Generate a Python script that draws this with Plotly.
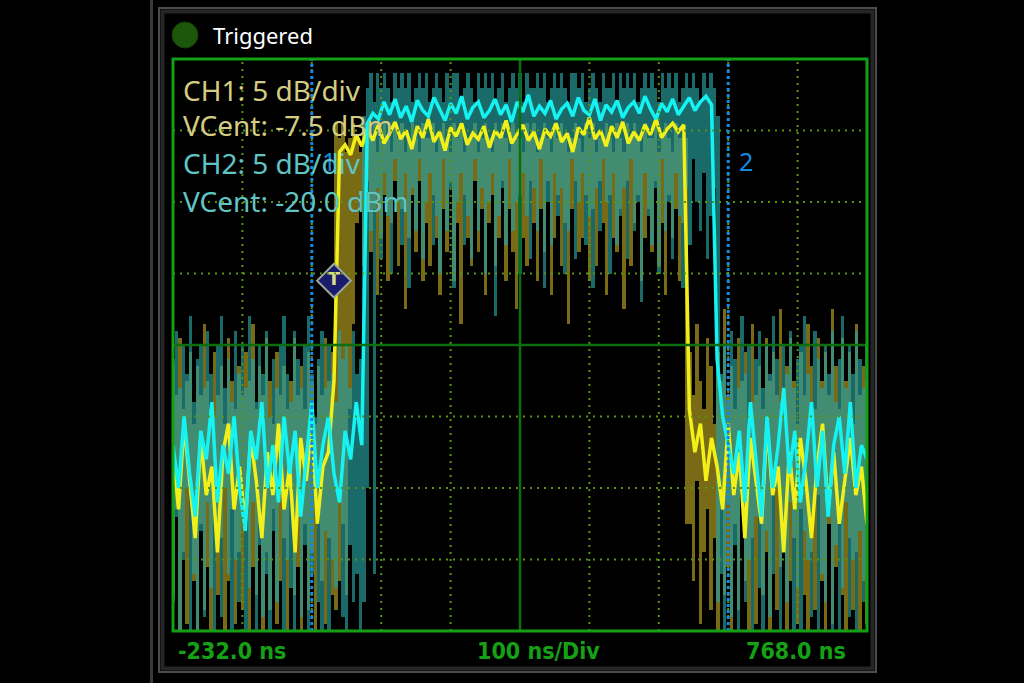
import numpy as np
import plotly.graph_objects as go

# ---------------- time base / vertical settings ----------------
T_START = -232.0     # ns, left edge
T_STOP = 768.0       # ns, right edge
NS_PER_DIV = 100
N_XDIV = 10
N_YDIV = 8
DB_PER_DIV = 5.0
CH1_VCENT = -7.5     # dBm
CH2_VCENT = -20.0    # dBm
DT_AVG = 8.0         # ns between samples of the bright (average) traces
DT_RAW = 5.0         # ns between samples of the dim (peak-detect) envelopes

# ---------------- data (dBm) read from the screen ----------------
# bright traces
ch1_avg = [-15, -19, -13, -17, -21, -14, -18, -16, -22, -15,
           -13, -19, -16, -20, -14, -17, -21, -15, -18, -13,
           -19, -16, -22, -14, -17, -13, -20, -16, -15,
           -10,
           6.0, 6.5, 5.8, 7.2, 6.4, 7.6, 6.8, 7.9, 6.6, 7.3,
           8.1, 6.9, 7.5, 6.2, 7.8, 7.0, 8.3, 6.7, 7.4, 6.1,
           7.7, 7.1, 8.0, 6.5, 7.3, 6.9, 7.8, 6.3, 7.5, 7.0,
           8.2, 6.6, 7.2, 7.9, 6.8, 7.4, 6.2, 7.6, 7.1, 8.0,
           6.7, 7.3, 6.0, 7.7, 7.2, 8.4, 6.9, 7.5, 6.4, 7.8,
           7.0, 8.1, 6.6, 7.4, 6.8, 7.9, 7.2, 8.3, 7.0, 7.6,
           8.0, 7.4, 7.9,
           -12, -15, -13, -17, -14, -16, -19, -13, -18, -15,
           -21, -14, -17, -20, -13, -18, -16, -22, -15, -19,
           -14, -17, -21, -16, -13, -19, -15, -20, -17, -14,
           -18, -16, -20]

ch2_avg = [-27, -30, -25, -29, -32, -26, -28, -24, -31, -27,
           -29, -25, -30, -33, -26, -28, -24, -30, -27, -31,
           -25, -29, -26, -32, -28, -24, -30, -27, -25, -29,
           -31, -26, -28, -24, -27,
           -4.5, -3.8, -4.2, -3.0, -3.9, -2.8, -4.1, -3.3, -4.4, -2.9,
           -3.6, -4.0, -2.7, -3.5, -4.3, -3.1, -3.8, -2.6, -4.2, -3.4,
           -3.0, -4.1, -3.6, -2.8, -3.9, -3.2, -4.4, -3.0, -3.7, -2.5,
           -4.0, -3.3, -3.8, -2.9, -4.2, -3.5, -3.1, -4.0, -2.7, -3.6,
           -3.9, -2.8, -4.3, -3.2, -3.7, -2.9, -4.1, -3.4, -3.0, -3.8,
           -2.6, -3.5, -4.2, -3.1, -3.7, -2.8, -3.9, -3.3, -2.7, -3.6,
           -3.0, -2.6, -3.2,
           -21, -25, -27, -29, -26, -31, -24, -28, -32, -25,
           -30, -27, -23, -29, -26, -31, -28, -24, -30, -26,
           -32, -27, -25, -29, -24, -30, -27, -28]

# dim peak-detect envelopes: top and bottom of each column
ch1_env_max = [-9, -11, -7, -12, -10, -8, -13, -9, -11, -6,
               -10, -12, -8, -11, -9, -13, -7, -10, -12, -9,
               -11, -8, -10, -6, -12, -9, -11, -7, -10, -13,
               -8, -11, -9, -12, -10, -7, -11, -9, -12, -8,
               -10, -13, -9, -11, -7, -10, -8,
               8,
               7, 8, 6, 7, 8, 7, 6, 8, 7, 7,
               8, 6, 7, 8, 7, 6, 8, 7, 8, 6,
               7, 8, 7, 6, 8, 7, 7, 8, 6, 7,
               8, 7, 6, 8, 7, 8, 6, 7, 7, 8,
               6, 7, 8, 7, 6, 8, 7, 8, 7, 6,
               8, 7, 7, 6, 8, 7, 8, 6, 7, 8,
               7, 6, 8, 7, 8, 7, 6, 7, 8, 7,
               6, 8, 7, 8, 6, 7, 7, 8, 7, 6,
               8, 7, 6, 8, 7, 8, 7, 6, 8, 7,
               7, 8, 6, 7, 8, 7, 6, 8, 7, 7,
               7,
               -8, -11, -6, -10, -12, -7, -9, -13, -8, -10,
               -5, -11, -9, -12, -7, -10, -8, -13, -6, -11,
               -9, -12, -7, -10, -8, -11, -5, -12, -9, -7,
               -10, -13, -8, -11, -6, -9, -12, -7, -10, -8,
               -11, -5, -9, -12, -7, -10, -8, -13, -6, -11,
               -9, -10]

ch1_env_min = [-25, -19, -28, -22, -27, -17, -24, -29, -20, -26,
               -23, -28, -18, -25, -21, -29, -24, -19, -27, -22,
               -26, -18, -28, -23, -25, -20, -29, -22, -26, -19,
               -27, -24, -21, -28, -17, -25, -23, -29, -20, -26,
               -22, -28, -19, -24, -27, -21, -25,
               -26,
               -24, -20, -25, -12, -6, 1,
               3, -2, 4, -1, 2, -4, 0, 3, -3, 1,
               4, -2, 2, -5, 0, 3, -1, 4, -3, 1,
               -2, 3, 0, -4, 2, -1, 4, -3, 1, -6,
               3, 0, -2, 4, -1, 2, -4, 1, 3, -2,
               0, 4, -3, 2, -1, -5, 3, 0, -2, 4,
               1, -3, 2, -1, 4, -4, 0, 3, -2, 1,
               -6, 2, 4, -1, 0, 3, -3, 2, -2, 4,
               1, -4, 3, 0, -1, 2, -5, 4, -2, 1,
               3, -3, 0, 2, -1, 4, -2, 1, -4, 3,
               0, 2, -3, 1,
               -20,
               -20, -24, -17, -27, -22, -19, -26, -21, -28, -18,
               -25, -23, -29, -20, -26, -17, -24, -28, -21, -27,
               -19, -25, -22, -29, -18, -26, -23, -20, -28, -24,
               -21, -27, -19, -25, -29, -22, -26, -18, -24, -28,
               -20, -27, -23, -19, -25, -29, -21, -26, -22, -28,
               -24, -27]

ch2_env_max = [-21, -19, -23, -20, -22, -18, -24, -21, -20, -23,
               -19, -22, -25, -20, -18, -23, -21, -24, -19, -22,
               -20, -23, -18, -21, -24, -20, -22, -19, -25, -21,
               -23, -20, -18, -22, -24, -19, -21, -23, -20, -18,
               -22, -25, -21, -19, -23, -20, -22, -24, -19, -21,
               -20, -23, -19, -22, -21,
               -4,
               -2, -1, -3, -1, -2, -1, -2, -3, -1, -2,
               -1, -2, -1, -3, -2, -1, -2, -1, -3, -2,
               -1, -2, -3, -1, -2, -1, -1, -3, -2, -1,
               -2, -3, -1, -2, -1, -2, -1, -3, -2, -1,
               -3, -2, -1, -2, -1, -3, -1, -2, -2, -1,
               -2, -1, -3, -2, -1, -2, -1, -2, -3, -1,
               -1, -2, -1, -3, -2, -1, -2, -3, -1, -2,
               -2, -1, -3, -1, -2, -1, -2, -1, -3, -2,
               -1, -2, -1, -2, -3, -1, -2, -1, -2, -1,
               -3, -2, -1, -2, -1, -2, -3, -1, -2, -1,
               -2,
               -4,
               -22, -20, -24, -19, -21, -23, -18, -22, -20, -24,
               -21, -19, -23, -20, -22, -18, -21, -24, -20, -22,
               -19, -23, -21, -20, -18, -22, -24, -19, -21, -23,
               -20, -22, -19, -24, -21, -18, -23, -20, -22, -19,
               -21, -23, -20]

ch2_env_min = [-38, -32, -41, -35, -30, -40, -36, -42, -33, -39,
               -31, -37, -41, -34, -39, -30, -36, -42, -35, -38,
               -32, -40, -37, -31, -41, -34, -39, -36, -42, -33,
               -38, -30, -40, -35, -37, -41, -32, -39, -34, -42,
               -36, -31, -38, -40, -33, -41, -35, -37, -30, -39,
               -42, -34, -38, -36, -40,
               -38,
               -30, -12, -36, -9, -14, -8, -11, -15, -7, -10,
               -13, -8, -16, -9, -12, -7, -14, -10, -8, -13,
               -11, -15, -7, -12, -9, -16, -10, -8, -13, -11,
               -14, -7, -12, -9, -15, -10, -8, -18, -11, -9,
               -13, -7, -12, -10, -15, -8, -11, -14, -9, -12,
               -7, -16, -10, -13, -8, -11, -9, -15, -12, -7,
               -14, -10, -8, -13, -11, -16, -9, -12, -7, -10,
               -15, -8, -13, -11, -9, -14, -7, -12, -10, -17,
               -8, -11, -13, -9, -15, -7, -12, -10, -14, -8,
               -11, -16, -9, -13, -7, -10, -12, -8, -14, -11,
               -9,
               -38,
               -36, -41, -31, -39, -34, -42, -30, -38, -35, -40,
               -32, -37, -42, -33, -39, -36, -30, -41, -34, -38,
               -31, -40, -37, -42, -33, -35, -39, -30, -41, -36,
               -38, -32, -40, -34, -42, -37, -31, -39, -35, -41,
               -33, -38, -36]

cursor_times = [-32.0, 568.0]      # ns
cursor_labels = ["1", "2"]
trigger_time = 0.0                  # ns
trigger_level_dbm = -3.0            # CH1 trigger level

ch1_labels = ["CH1: 5 dB/div", "VCent: -7.5 dBm"]
ch2_labels = ["CH2: 5 dB/div", "VCent: -20.0 dBm"]
time_labels = ["-232.0 ns", "100 ns/Div", "768.0 ns"]
status_text = "Triggered"

# ---------------- helpers ----------------
def to_div(vals, vcent):
    return (np.asarray(vals, dtype=float) - vcent) / DB_PER_DIV


def times(n, dt):
    return T_START + dt * np.arange(n)


# plot-area pixel geometry
PL, PR, PT, PB = 173, 867, 59, 631
W, H = 1024, 683


def xp(px):
    return (px - PL) / (PR - PL)


def yp(py):
    return (PB - py) / (PB - PT)


fig = go.Figure()

OLIVE = "rgba(142,124,26,0.85)"
TEAL = "rgba(40,156,156,0.68)"
YELLOW = "#f2f018"
CYAN = "#14f2f2"


def envelope(vmax, vmin, vcent, color):
    top = to_div(vmax, vcent)
    bot = to_div(vmin, vcent)
    return go.Bar(x=times(len(vmax), DT_RAW), y=top - bot, base=bot, width=DT_RAW,
                  marker=dict(color=color, line=dict(width=0)), hoverinfo="skip")


fig.add_trace(envelope(ch1_env_max, ch1_env_min, CH1_VCENT, OLIVE))
fig.add_trace(envelope(ch2_env_max, ch2_env_min, CH2_VCENT, TEAL))
fig.add_trace(go.Scatter(x=times(len(ch1_avg), DT_AVG), y=to_div(ch1_avg, CH1_VCENT),
                         mode="lines", line=dict(color=YELLOW, width=3.5), hoverinfo="skip"))
fig.add_trace(go.Scatter(x=times(len(ch2_avg), DT_AVG), y=to_div(ch2_avg, CH2_VCENT),
                         mode="lines", line=dict(color=CYAN, width=3.5), hoverinfo="skip"))

shapes = []
# grid
for k in range(1, N_XDIV):
    xv = T_START + k * NS_PER_DIV
    if k == N_XDIV // 2:
        shapes.append(dict(type="line", xref="x", yref="y", x0=xv, x1=xv, y0=-4, y1=4,
                           line=dict(color="#0d6e0d", width=2.5), layer="above"))
    else:
        shapes.append(dict(type="line", xref="x", yref="y", x0=xv, x1=xv, y0=-4, y1=4,
                           line=dict(color="#5c9412", width=2, dash="2px,5px"), layer="above"))
for k in range(1, N_YDIV):
    yv = -N_YDIV / 2 + k
    if k == N_YDIV // 2:
        shapes.append(dict(type="line", xref="x", yref="y", x0=T_START, x1=T_STOP, y0=yv, y1=yv,
                           line=dict(color="#0d6e0d", width=2.5), layer="above"))
    else:
        shapes.append(dict(type="line", xref="x", yref="y", x0=T_START, x1=T_STOP, y0=yv, y1=yv,
                           line=dict(color="#5c9412", width=2, dash="2px,5px"), layer="above"))
# cursors
for ct in cursor_times:
    shapes.append(dict(type="line", xref="x", yref="y", x0=ct, x1=ct, y0=-4, y1=4,
                       line=dict(color="#1688e0", width=3, dash="3px,3px"), layer="above"))
# green plot border
shapes.append(dict(type="rect", xref="paper", yref="paper", x0=0, x1=1, y0=0, y1=1,
                   line=dict(color="#14a014", width=3), layer="above"))
# outer panel frame
shapes.append(dict(type="line", xref="paper", yref="paper", x0=xp(151.5), x1=xp(151.5),
                   y0=yp(0), y1=yp(683), line=dict(color="#3a3a3a", width=3)))
shapes.append(dict(type="rect", xref="paper", yref="paper", x0=xp(159), x1=xp(876),
                   y0=yp(8), y1=yp(672), line=dict(color="#4c4c4c", width=2)))
shapes.append(dict(type="rect", xref="paper", yref="paper", x0=xp(162.5), x1=xp(872.5),
                   y0=yp(11.5), y1=yp(668.5), line=dict(color="#262626", width=4)))
# status LED
shapes.append(dict(type="circle", xref="paper", yref="paper", x0=xp(172), x1=xp(198),
                   y0=yp(22), y1=yp(48), fillcolor="#1c560b", line=dict(color="#123f06", width=1)))

# trigger marker
fig.add_trace(go.Scatter(x=[trigger_time], y=to_div([trigger_level_dbm], CH1_VCENT),
                         mode="markers+text", text=["T"], textposition="middle center",
                         textfont=dict(color="#d6de8a", size=18, family="DejaVu Sans", weight="bold"),
                         marker=dict(symbol="diamond", size=26, color="#1b1b6c",
                                     line=dict(color="#9aa89a", width=2)),
                         hoverinfo="skip", cliponaxis=False))

annotations = []
TXT_FONT = "Noto Sans, Open Sans, sans-serif"
# cursor labels first so the channel text sits on top of them
for ct, lab in zip(cursor_times, cursor_labels):
    annotations.append(dict(text=lab, xref="x", yref="paper", x=ct + 12, y=yp(161),
                            xanchor="left", yanchor="middle", showarrow=False,
                            font=dict(family=TXT_FONT, size=25, color="#1688e0")))
annotations.append(dict(text=status_text, xref="paper", yref="paper", x=xp(211), y=yp(35),
                        xanchor="left", yanchor="middle", showarrow=False,
                        font=dict(family=TXT_FONT, size=22, color="#ffffff")))
for txt, ypx in zip(ch1_labels, [90, 125]):
    annotations.append(dict(text=txt, xref="paper", yref="paper", x=xp(181), y=yp(ypx),
                            xanchor="left", yanchor="middle", showarrow=False,
                            font=dict(family=TXT_FONT, size=28, color="#d4cc80")))
for txt, ypx in zip(ch2_labels, [163, 201]):
    annotations.append(dict(text=txt, xref="paper", yref="paper", x=xp(181), y=yp(ypx),
                            xanchor="left", yanchor="middle", showarrow=False,
                            font=dict(family=TXT_FONT, size=28, color="#60c4c4")))
BOT_FONT = "Liberation Sans Narrow, DejaVu Sans Condensed, Liberation Sans, sans-serif"
for txt, xpx, anc in zip(time_labels, [176, 538, 848], ["left", "center", "right"]):
    annotations.append(dict(text=txt, xref="paper", yref="paper", x=xp(xpx), y=yp(651),
                            xanchor=anc, yanchor="middle", showarrow=False,
                            font=dict(family=BOT_FONT, size=23, color="#16a016", weight="bold")))

fig.update_layout(
    width=W, height=H, autosize=False,
    paper_bgcolor="#000000", plot_bgcolor="#000000",
    margin=dict(l=PL, r=W - PR, t=PT, b=H - PB, pad=0),
    showlegend=False, barmode="overlay", bargap=0,
    xaxis=dict(range=[T_START, T_STOP], showgrid=False, zeroline=False,
               showticklabels=False, ticks="", fixedrange=True),
    yaxis=dict(range=[-N_YDIV / 2, N_YDIV / 2], showgrid=False, zeroline=False,
               showticklabels=False, ticks="", fixedrange=True),
    shapes=shapes, annotations=annotations,
)

fig.write_html("out.html", config={"displayModeBar": False, "staticPlot": True},
               post_script="document.body.style.margin='0px';"
                           "document.body.style.background='#000000';"
                           "document.body.style.overflow='hidden';")
